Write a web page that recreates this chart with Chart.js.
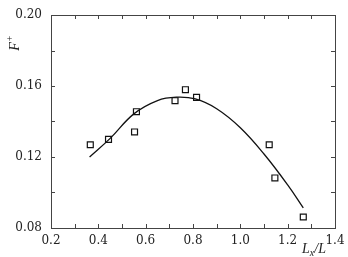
<!DOCTYPE html>
<html><head><meta charset="utf-8">
<script src="https://cdn.jsdelivr.net/npm/chart.js@4"></script>
<style>html,body{margin:0;padding:0;background:#fff}#w{width:348px;height:257px}</style>
</head><body><div id="w"><canvas id="c"></canvas></div>
<script>
const pointX = [0.366, 0.443, 0.553, 0.561, 0.724, 0.768, 0.815, 1.122, 1.146, 1.266];
const pointY = [0.1269, 0.1299, 0.1341, 0.1455, 0.1517, 0.1579, 0.1536, 0.1269, 0.1082, 0.0862];
const curveX = [0.363, 0.45, 0.55, 0.65, 0.73, 0.81, 0.90, 1.00, 1.10, 1.20, 1.266];
const curveY = [0.1200, 0.1305, 0.1443, 0.1518, 0.1537, 0.1527, 0.1472, 0.1365, 0.1217, 0.1043, 0.0913];
const xTickLabels = ['0.2','0.4','0.6','0.8','1.0','1.2','1.4'];
const yTickLabels = ['0.08','0.12','0.16','0.20'];
// title pieces: [text, size, baseline shift]
const xTitle = [['L', 14, 0], ['x', 10, 3], ['/L', 14, 0]];
const yTitle = [['F', 14, 0], ['+', 10, -6]];

const FONT = '"DejaVu Serif", "Liberation Serif", serif';
const TFONT = '"Liberation Serif", "DejaVu Serif", serif';

function drawPieces(ctx, pieces, cx, cy) {
  let w = 0;
  pieces.forEach(p => { ctx.font = 'italic ' + p[1] + 'px ' + TFONT; w += ctx.measureText(p[0]).width; });
  let x = cx - w / 2;
  ctx.textAlign = 'left'; ctx.textBaseline = 'alphabetic';
  pieces.forEach(p => {
    ctx.font = 'italic ' + p[1] + 'px ' + TFONT;
    ctx.fillText(p[0], x, cy + p[2]);
    x += ctx.measureText(p[0]).width;
  });
}

const frame = {
  id: 'frame',
  afterDraw(chart) {
    const {ctx, chartArea: a, scales: {x, y}} = chart;
    ctx.save();
    ctx.strokeStyle = '#444'; ctx.lineWidth = 1;
    ctx.strokeRect(Math.round(a.left)+0.5, Math.round(a.top)+0.5, Math.round(a.right-a.left), Math.round(a.bottom-a.top));
    ctx.beginPath();
    x.ticks.forEach(t => {
      const px = Math.round(x.getPixelForValue(t.value)) + 0.5;
      ctx.moveTo(px, a.bottom); ctx.lineTo(px, a.bottom - 4);
      ctx.moveTo(px, a.top); ctx.lineTo(px, a.top + 4);
    });
    y.ticks.forEach(t => {
      const py = Math.round(y.getPixelForValue(t.value)) + 0.5;
      ctx.moveTo(a.left, py); ctx.lineTo(a.left + 4, py);
      ctx.moveTo(a.right, py); ctx.lineTo(a.right - 4, py);
    });
    ctx.stroke();
    ctx.fillStyle = '#222';
    drawPieces(ctx, xTitle, a.right - 21, a.bottom + 25);
    ctx.translate(a.left - 32, a.top + 28);
    ctx.rotate(-Math.PI / 2);
    drawPieces(ctx, yTitle, 0, 0);
    ctx.restore();
  }
};

new Chart(document.getElementById('c'), {
  type: 'scatter',
  data: {
    datasets: [
      {
        type: 'line',
        data: curveX.map((v, i) => ({x: v, y: curveY[i]})),
        borderColor: '#111', borderWidth: 1.3, pointRadius: 0,
        tension: 0.4, fill: false
      },
      {
        data: pointX.map((v, i) => ({x: v, y: pointY[i]})),
        pointStyle: 'rect', pointRadius: 4.2, borderColor: '#111',
        backgroundColor: '#fff', borderWidth: 1.2
      }
    ]
  },
  options: {
    responsive: true, maintainAspectRatio: false, animation: false,
    layout: {padding: {top: 15, right: 13, left: 0, bottom: 0}},
    plugins: {legend: {display: false}, tooltip: {enabled: false}},
    scales: {
      x: {
        type: 'linear', min: 0.2, max: 1.4,
        border: {display: false},
        grid: {display: false},
        ticks: {
          stepSize: 0.1, autoSkip: false, maxRotation: 0, padding: -2,
          color: '#222', font: {family: FONT, size: 12},
          callback: (v) => {
            const s = v.toFixed(1);
            return xTickLabels.includes(s) ? s : '';
          }
        },
        afterFit: s => { s.height = 29; }
      },
      y: {
        type: 'linear', min: 0.08, max: 0.20,
        border: {display: false},
        grid: {display: false},
        ticks: {
          stepSize: 0.02, autoSkip: false, padding: 1,
          color: '#222', font: {family: FONT, size: 12},
          callback: (v) => {
            const s = v.toFixed(2);
            return yTickLabels.includes(s) ? s : '';
          }
        },
        afterFit: s => { s.width = 51; }
      }
    }
  },
  plugins: [frame]
});
</script>
</body></html>
